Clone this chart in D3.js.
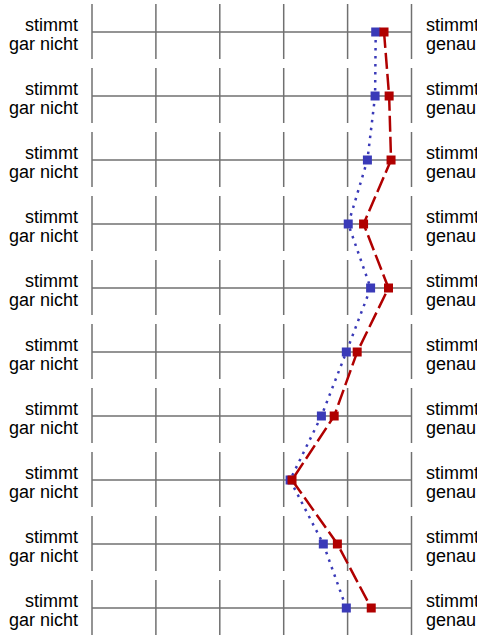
<!DOCTYPE html>
<html>
<head>
<meta charset="utf-8">
<script src="https://cdn.jsdelivr.net/npm/d3@7"></script>
<style>
  html, body { margin: 0; padding: 0; background: #fff; }
  svg { display: block; }
  text { font-family: "Liberation Sans", Arial, sans-serif; fill: #000; }
</style>
</head>
<body>
<svg id="chart" width="477" height="635"></svg>
<script>
// Ten semantic-differential items, rated on a 1..6 scale
const items = ["1", "2", "3", "4", "5", "6", "7", "8", "9", "10"];
const scaleTicks = [1, 2, 3, 4, 5, 6];
const leftLabel = ["stimmt", "gar nicht"];
const rightLabel = ["stimmt", "genau"];

// Mean profiles of the two groups
const groupBlue = [5.44, 5.43, 5.31, 5.01, 5.36, 4.98, 4.59, 4.10, 4.62, 4.98];
const groupRed  = [5.57, 5.65, 5.68, 5.25, 5.64, 5.15, 4.79, 4.13, 4.84, 5.37];

const svg = d3.select("#chart");

const x = d3.scaleLinear().domain([1, 6]).range([92, 411.5]);
const y = d3.scalePoint().domain(items).range([32, 608]);

const gridColor = "#707070";

// Grid: one horizontal rule and short vertical ticks per item
const rows = svg.append("g").selectAll("g").data(items).join("g")
  .attr("transform", d => `translate(0,${y(d)})`);

rows.append("line")
  .attr("x1", x(1)).attr("x2", x(6))
  .attr("y1", 0).attr("y2", 0)
  .attr("stroke", gridColor).attr("stroke-width", 1.5);

rows.selectAll("line.v").data(scaleTicks).join("line")
  .attr("class", "v")
  .attr("x1", d => x(d)).attr("x2", d => x(d))
  .attr("y1", -28).attr("y2", 27)
  .attr("stroke", gridColor).attr("stroke-width", 1.5);

// Pole labels on both sides, two lines each
const fs = 18;
const lineY = [-1, 18];
leftLabel.forEach((t, k) => {
  rows.append("text")
    .attr("x", 78).attr("y", lineY[k])
    .attr("text-anchor", "end")
    .attr("font-size", fs)
    .text(t);
});
rightLabel.forEach((t, k) => {
  rows.append("text")
    .attr("x", 426).attr("y", lineY[k])
    .attr("text-anchor", "start")
    .attr("font-size", fs)
    .text(t);
});

// Profile lines
const line = vals => d3.line()
  .x((d, i) => x(d))
  .y((d, i) => y(items[i]))(vals);

const series = [
  { values: groupBlue, color: "#3a3ab8", dash: "2.5,5.5", width: 2.5 },
  { values: groupRed,  color: "#b00000", dash: "16,5",   width: 2.5 }
];

const sq = 9;
series.forEach(s => {
  svg.append("path")
    .attr("d", line(s.values))
    .attr("fill", "none")
    .attr("stroke", s.color)
    .attr("stroke-width", s.width)
    .attr("stroke-dasharray", s.dash);
  svg.append("g").selectAll("rect").data(s.values).join("rect")
    .attr("x", d => x(d) - sq / 2)
    .attr("y", (d, i) => y(items[i]) - sq / 2)
    .attr("width", sq).attr("height", sq)
    .attr("fill", s.color);
});
</script>
</body>
</html>
